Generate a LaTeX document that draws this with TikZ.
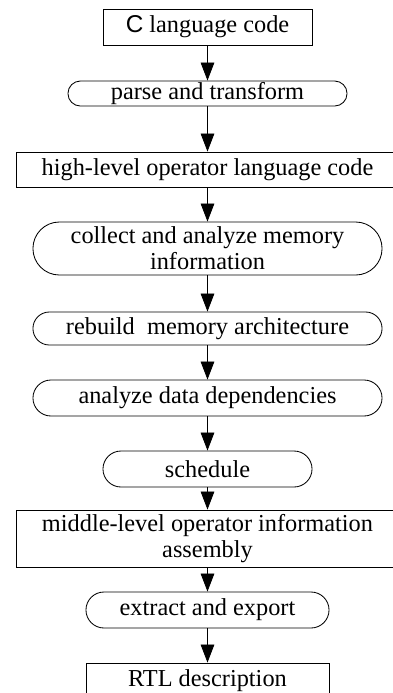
\documentclass[tikz,border=0pt]{standalone}
\usepackage{fontspec}
\setmainfont{Liberation Serif}
\newfontfamily\sansC{Liberation Sans}
\usetikzlibrary{positioning, arrows.meta}
\tikzset{>={Triangle[length=4.5mm,width=3.4mm]}}
\tikzset{
  box/.style={draw, line width=0.6pt, inner sep=0pt, align=center,
    font=\fontsize{17.3}{18.5}\selectfont},
  pill/.style={box, rounded corners=#1}
}

\begin{document}
\begin{tikzpicture}[x=0.025cm, y=-0.025cm, line width=0.6pt]
  \useasboundingbox (0,0) rectangle (393,693);
  \clip (0,0) rectangle (393,693);
  % Steps
  \node[box, minimum width=5.225cm, minimum height=0.9cm] (src) at (207.5,27) {{\sansC C} language code};
  \node[pill=0.31cm, minimum width=6.975cm, minimum height=0.625cm] (parse) at (207.5,93.5) {parse and transform};
  \node[box, minimum width=9.575cm, minimum height=0.875cm] (high) at (207.5,169.5) {high-level operator language code};
  \node[pill=0.66cm, minimum width=8.725cm, minimum height=1.325cm] (collect) at (207.5,248.5) {collect and analyze memory\\information};
  \node[pill=0.41cm, minimum width=8.725cm, minimum height=0.825cm] (rebuild) at (207.5,328.5) {rebuild\ \ memory architecture};
  \node[pill=0.45cm, minimum width=8.725cm, minimum height=0.9cm] (deps) at (207.5,398) {analyze data dependencies};
  \node[pill=0.45cm, minimum width=5.225cm, minimum height=0.9cm] (sched) at (207.5,469) {schedule};
  \node[box, minimum width=9.575cm, minimum height=1.425cm] (mid) at (207.5,538.5) {middle-level operator information\\assembly};
  \node[pill=0.45cm, minimum width=6.075cm, minimum height=0.9cm] (extract) at (207.5,610) {extract and export};
  \node[box, minimum width=6.075cm, minimum height=0.9cm] (rtl) at (207.5,681) {RTL description};

  % Arrows
  \foreach \a/\b in {src/parse, parse/high, high/collect, collect/rebuild, rebuild/deps,
                     deps/sched, sched/mid, mid/extract, extract/rtl}
    \draw[->] (\a) -- (\b);
\end{tikzpicture}
\end{document}
